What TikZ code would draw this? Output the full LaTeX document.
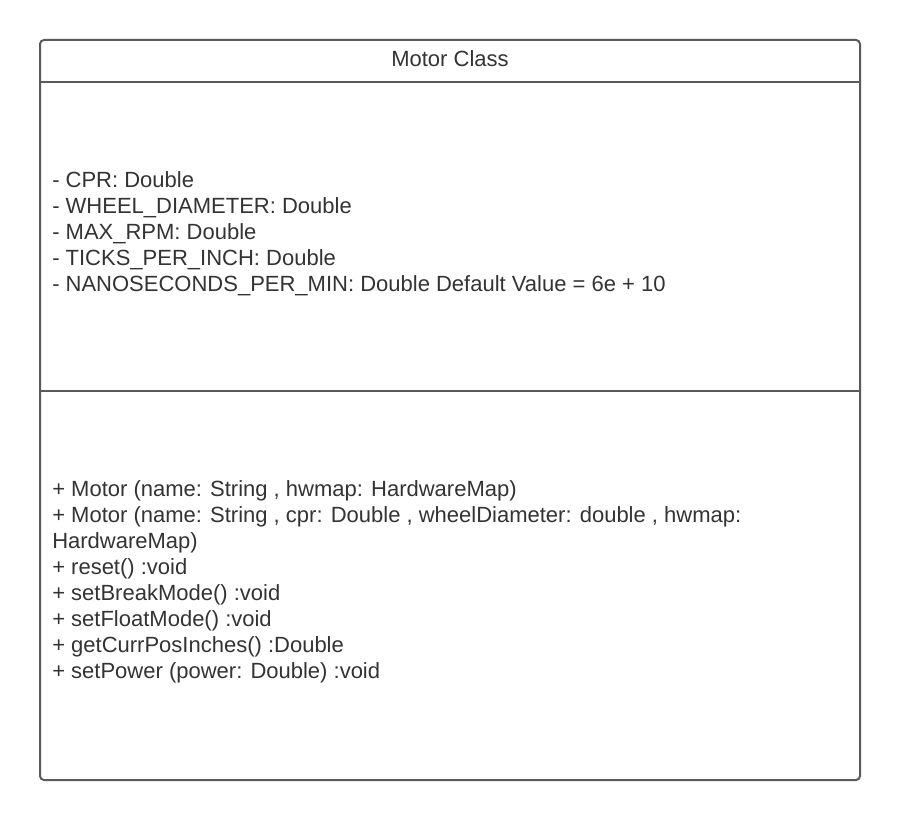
\documentclass[tikz,border=0pt]{standalone}
\usepackage{fontspec}
\setmainfont{Liberation Sans}
\usetikzlibrary{positioning}
\definecolor{linegray}{HTML}{5A5A5A}
\definecolor{textgray}{HTML}{333333}

\begin{document}
\begin{tikzpicture}[x=0.75pt, y=-0.75pt,
    frame/.style={draw=linegray, line width=1.5pt, rounded corners=3pt},
    divider/.style={draw=linegray, line width=1.5pt},
    member/.style={anchor=west, align=left, inner sep=0pt, text=textgray,
                font=\fontsize{16.5}{19.5}\selectfont},
    title/.style={inner sep=0pt, text=textgray, font=\fontsize{16.5}{19.5}\selectfont}]

    \useasboundingbox (0,0) rectangle (900,820);

    % class frame and compartments
    \coordinate (nw) at (40,40);
    \coordinate (se) at (860,780);
    \coordinate (headL) at (40,82);
    \coordinate (headR) at (860,82);
    \coordinate (attrL) at (40,391);
    \coordinate (attrR) at (860,391);

    \draw[frame] (nw) rectangle (se);
    \draw[divider] (headL) -- (headR);
    \draw[divider] (attrL) -- (attrR);

    \node[title] (name) at (450,59) {Motor Class};

    \node[member] (attrs) at (52,234) {- CPR: Double\\
        - WHEEL\_DIAMETER: Double\\
        - MAX\_RPM: Double\\
        - TICKS\_PER\_INCH: Double\\
        - NANOSECONDS\_PER\_MIN: Double Default Value = 6e + 10};

    \node[member] (ops) at (52,582) {+ Motor (name: String , hwmap: HardwareMap)\\
        + Motor (name: String , cpr: Double , wheelDiameter: double , hwmap:\\
        HardwareMap)\\
        + reset() :void\\
        + setBreakMode() :void\\
        + setFloatMode() :void\\
        + getCurrPosInches() :Double\\
        + setPower (power: Double) :void};
\end{tikzpicture}
\end{document}
